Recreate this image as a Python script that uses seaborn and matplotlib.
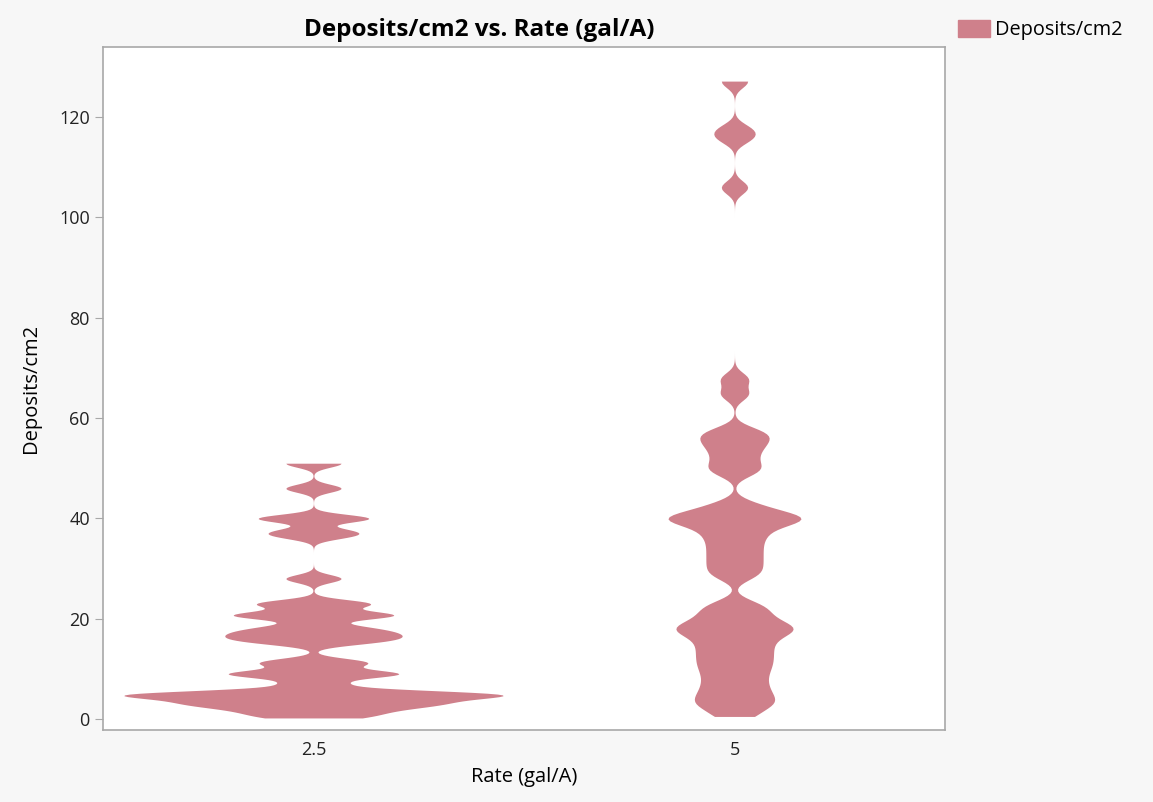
import numpy as np
import seaborn as sns
import matplotlib.pyplot as plt
import pandas as pd

# Valores (estimados)
rates = ['2.5', '5']
deposits_rate_25 = [0.2, 1, 1.8, 2.4, 3, 3, 3.5, 4, 4.5, 5, 5, 5, 5, 5, 7, 9, 9, 9, 11, 11.5,
                    15.2, 15.8, 16.4, 17.0, 17.6, 18.4, 20.4, 20.7, 21.0, 23, 23, 28,
                    36.5, 37.5, 40, 40, 46, 51]
deposits_rate_5 = [0.5, 2.3, 3.2, 4.2, 5.3, 6.5, 7.8, 9.1, 10.3, 11.4, 12.5, 13.6, 14.7,
                   15.8, 16.8, 17.6, 18.1, 18.6, 19.5, 20.6, 21.8, 23.0,
                   28.5, 30.0, 31.5, 33.0, 34.5, 36.0, 37.3, 38.5, 39.4, 40.0, 40.0,
                   40.6, 41.5, 42.8,
                   49.2, 50.5, 52.3, 54.0, 55.3, 56.5, 57.5,
                   64.8, 67.8,
                   106, 115.8, 117.6, 127.2]

df = pd.DataFrame({
    'Rate (gal/A)': [rates[0]] * len(deposits_rate_25) + [rates[1]] * len(deposits_rate_5),
    'Deposits/cm2': deposits_rate_25 + deposits_rate_5,
})

color = '#CF808B'
plt.rcParams['font.family'] = ['Open Sans', 'DejaVu Sans']

# largura de banda cresce mais devagar que o desvio padrão de cada grupo
def kde_bw(kde):
    std = np.std(kde.dataset, ddof=1)
    return 0.16 * std ** 0.615 / std

fig = plt.figure(figsize=(11.53, 8.02), dpi=100, facecolor='#F7F7F7')
ax = fig.add_axes([0.0893, 0.0898, 0.7303, 0.8516])
ax.set_facecolor('white')

sns.violinplot(data=df, x='Rate (gal/A)', y='Deposits/cm2', order=rates, color=color,
               saturation=1, inner=None, linewidth=0, cut=0, bw_method=kde_bw,
               gridsize=300, density_norm='area', width=0.9, ax=ax)

ax.set_xlim(-0.5, 1.5)
ax.set_ylim(-2.2, 134)
ax.set_yticks(range(0, 121, 20))
for s in ax.spines.values():
    s.set_color('#A8A8A8')
    s.set_linewidth(1.2)
ax.tick_params(axis='y', colors='#A8A8A8', labelcolor='#222222', labelsize=13, length=6)
ax.tick_params(axis='x', length=0, labelcolor='#222222', labelsize=13, pad=8)

fig.text(0.4155, 0.962, 'Deposits/cm2 vs. Rate (gal/A)', fontsize=17.5, fontweight='bold',
         ha='center', va='center')
ax.set_xlabel('Rate (gal/A)', fontsize=14.5, labelpad=6)
ax.set_ylabel('Deposits/cm2', fontsize=14.5, labelpad=13)

handle = plt.Rectangle((0, 0), 1, 1, color=color)
fig.legend([handle], ['Deposits/cm2'], loc='upper left', bbox_to_anchor=(0.8222, 0.9875),
           frameon=False, fontsize=14.3, borderpad=0, handlelength=1.6, handleheight=0.95,
           handletextpad=0.25)

fig.savefig('out.png', dpi=100, facecolor=fig.get_facecolor())
